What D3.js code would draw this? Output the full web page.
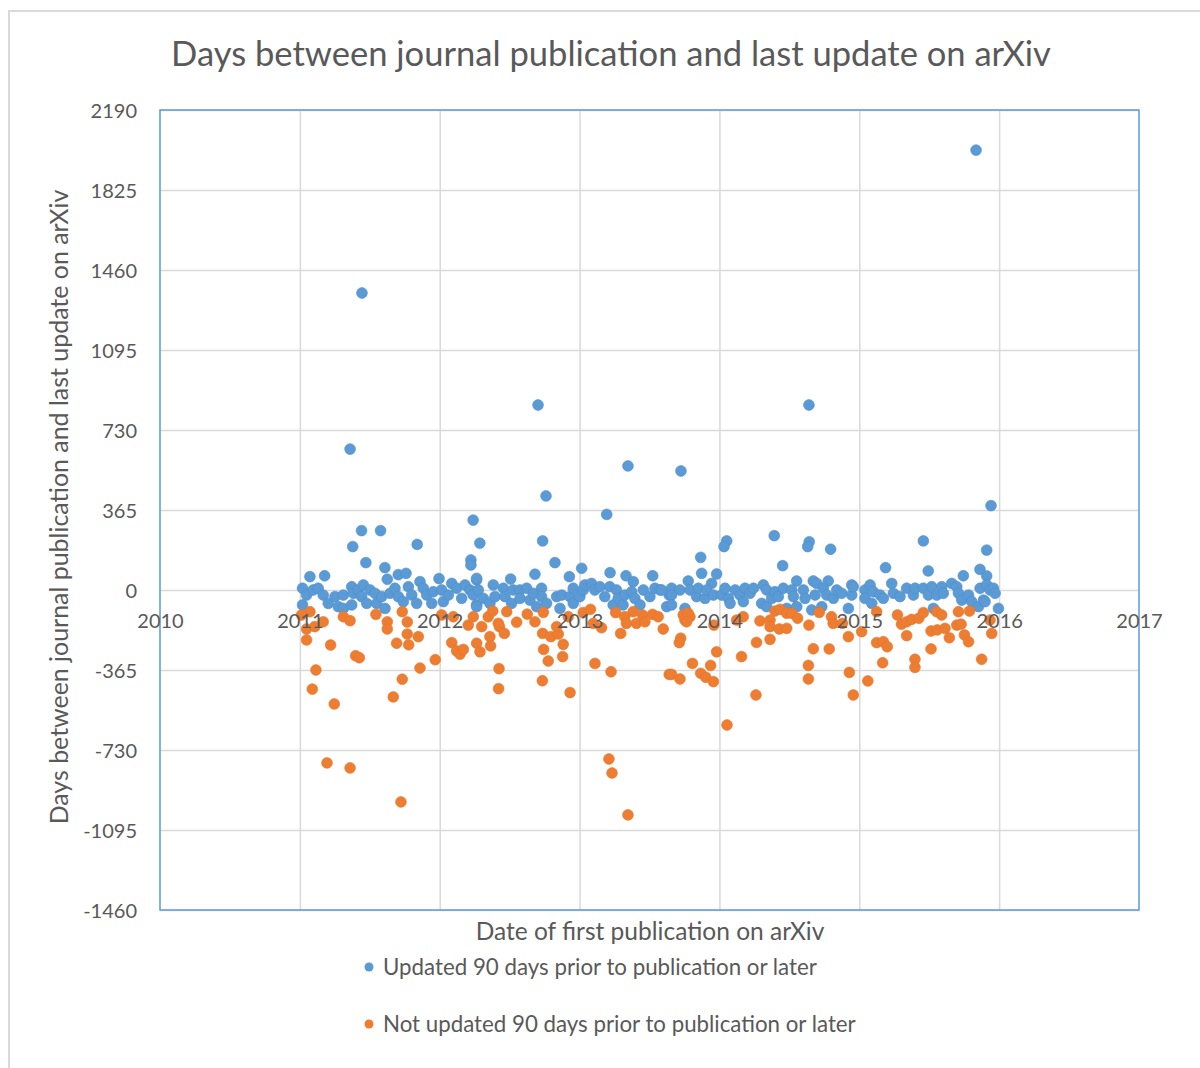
<!DOCTYPE html>
<html><head><meta charset="utf-8">
<script src="https://cdn.jsdelivr.net/npm/d3@7"></script>
<style>body{margin:0;background:#fff}svg{display:block}text{font-family:Lato,"Open Sans",sans-serif;fill:#595959}</style>
</head><body>
<script>
const titleText = "Days between journal publication and last update on arXiv";
const xTitle = "Date of first publication on arXiv";
const yTitle = "Days between journal publication and last update on arXiv";
const seriesNames = ["Updated 90 days prior to publication or later","Not updated 90 days prior to publication or later"];
const yTicks = [-1460,-1095,-730,-365,0,365,730,1095,1460,1825,2190];
const xTicks = [2010,2011,2012,2013,2014,2015,2016,2017];

// [first publication (decimal year), days]
const updated = [
[2011.444,1355],[2011.359,643],[2012.703,844],[2013.346,566],[2013.725,543],[2014.640,844],[2015.835,2007],
[2012.760,429],[2013.194,345],[2015.942,385],
[2012.239,319],[2011.441,271],[2011.577,271],[2011.378,198],[2011.839,208],[2011.472,125],[2012.223,137],[2012.223,114],[2011.608,102],[2011.072,61],[2011.177,65],[2011.625,49],[2011.704,70],[2011.759,76],[2011.995,52],[2012.287,214],
[2012.736,224],[2012.824,125],[2013.015,99],[2012.927,61],[2012.681,72],[2012.507,50],[2013.218,79],[2013.332,65],[2013.384,38],[2013.523,65],
[2014.392,248],[2014.052,224],[2014.033,198],[2014.642,220],[2014.631,198],[2014.795,186],[2013.866,149],[2014.452,111],[2013.873,76],[2013.980,73],[2013.777,41],[2014.552,41],[2014.671,41],[2014.778,41],[2013.944,30],
[2015.911,182],[2015.458,224],[2015.188,102],[2015.493,87],[2015.863,94],[2015.911,64],[2015.744,65],
[2011.019,8],[2011.048,-23],[2011.019,-68],[2011.095,0],[2011.131,8],[2011.167,-23],[2011.203,-61],[2011.251,-30],[2011.275,-76],[2011.311,-23],[2011.311,-84],[2011.371,15],[2011.383,-15],[2011.371,-68],[2011.418,0],[2011.454,23],[2011.442,-30],[2011.478,-61],[2011.502,0],[2011.537,-15],[2011.549,-61],[2011.585,-30],[2011.609,-84],[2011.645,-15],[2011.680,8],[2011.704,-30],[2011.740,-53],[2011.776,15],[2011.800,-23],[2011.835,-61],[2011.859,38],[2011.883,8],[2011.907,-23],[2011.943,-61],[2011.954,-8],[2012.014,0],[2012.026,-53],[2012.062,-23],[2012.086,30],[2012.121,8],[2012.157,-38],[2012.181,23],[2012.216,0],[2012.240,-23],[2012.264,-68],[2012.264,46],
[2012.264,53],[2012.276,0],[2012.264,-76],[2012.312,-38],[2012.383,23],[2012.359,-61],[2012.395,-30],[2012.455,8],[2012.467,-30],[2012.514,-61],[2012.526,0],[2012.574,0],[2012.574,-38],[2012.622,8],[2012.645,-46],[2012.669,-15],[2012.693,-76],[2012.728,8],[2012.728,-30],[2012.764,-61],[2012.836,-30],[2012.860,-84],[2012.872,-23],[2012.931,-30],[2012.955,8],[2012.955,-61],[2013.002,-30],[2013.026,0],[2013.038,23],[2013.085,30],[2013.109,0],[2013.145,15],[2013.180,-30],[2013.216,15],[2013.240,-68],[2013.264,0],[2013.276,-38],[2013.311,-68],[2013.323,-23],[2013.373,-8],[2013.395,-38],[2013.432,-68],[2013.456,0],[2013.503,-30],[2013.539,8],[2013.575,0],[2013.623,-76],[2013.641,-23],
[2013.587,0],[2013.658,8],[2013.658,-23],[2013.658,-68],[2013.718,0],[2013.754,-84],[2013.790,0],[2013.837,-30],[2013.849,8],[2013.897,-38],[2013.909,0],[2013.957,-23],[2014.016,-23],[2014.040,8],[2014.064,-38],[2014.076,-61],[2014.112,0],[2014.147,-23],[2014.171,-53],[2014.183,8],[2014.219,-15],[2014.243,8],[2014.302,-61],[2014.314,23],[2014.338,0],[2014.338,-76],[2014.374,-38],[2014.397,-8],[2014.421,-30],[2014.457,8],[2014.481,-84],[2014.517,0],[2014.529,-30],[2014.553,-76],[2014.600,0],[2014.612,-38],[2014.660,-91],[2014.684,-23],[2014.696,30],[2014.732,-76],[2014.743,8],[2014.767,-23],[2014.815,-38],[2014.839,0],[2014.874,-15],[2014.922,-84],[2014.946,23],[2014.946,-23],
[2014.957,15],[2015.041,0],[2015.041,-38],[2015.077,23],[2015.089,-61],[2015.101,-8],[2015.149,-23],[2015.172,-38],[2015.232,30],[2015.244,-15],[2015.291,-30],[2015.339,8],[2015.387,-23],[2015.399,8],[2015.458,8],[2015.494,-23],[2015.518,15],[2015.530,-84],[2015.554,-23],[2015.590,15],[2015.601,-15],[2015.661,30],[2015.697,15],[2015.709,-15],[2015.733,-46],[2015.781,-23],[2015.804,-53],[2015.852,-76],[2015.864,8],[2015.888,-46],[2015.911,23],[2015.935,0],[2015.959,8],[2015.971,-15],[2015.995,-84],[2015.899,-53]
];

const notUpdated = [
[2011.072,-99],[2011.012,-114],[2011.048,-178],[2011.107,-167],[2011.167,-145],[2011.048,-228],[2011.220,-251],[2011.115,-365],[2011.089,-452],[2011.246,-520],[2011.311,-122],[2011.359,-140],[2011.399,-300],[2011.425,-309],[2011.544,-111],[2011.625,-145],[2011.625,-178],[2011.732,-99],[2011.768,-146],[2011.768,-201],[2011.692,-243],[2011.778,-250],[2011.847,-213],[2011.859,-356],[2011.732,-407],[2011.668,-488],[2011.968,-318],[2012.086,-240],[2012.121,-278],[2012.145,-293],[2012.169,-271],[2012.014,-114],[2012.097,-122],[2012.264,-243],[2012.288,-282],[2012.204,-160],[2012.240,-122],[2011.194,-789],[2011.359,-812],[2011.723,-967],
[2012.300,-167],[2012.347,-122],[2012.359,-213],[2012.364,-255],[2012.379,-96],[2012.419,-152],[2012.427,-167],[2012.462,-198],[2012.479,-99],[2012.424,-359],[2012.421,-450],[2012.550,-147],[2012.626,-110],[2012.681,-145],[2012.741,-102],[2012.736,-198],[2012.795,-213],[2012.848,-201],[2012.836,-167],[2012.743,-271],[2012.776,-324],[2012.883,-248],[2012.879,-304],[2012.734,-414],[2012.932,-468],[2012.919,-122],[2013.026,-103],[2013.078,-88],[2013.098,-152],[2013.157,-172],[2013.110,-335],[2013.225,-373],[2013.258,-103],[2013.294,-198],[2013.323,-122],[2013.335,-152],[2013.383,-99],[2013.407,-152],[2013.450,-114],[2013.467,-145],[2013.522,-111],[2013.562,-122],[2013.598,-178],[2013.641,-385],[2013.210,-771],[2013.232,-835],[2013.346,-1026],
[2013.741,-114],[2013.753,-137],[2013.789,-122],[2013.777,-106],[2013.765,-145],[2013.723,-220],[2013.713,-240],[2013.961,-160],[2013.980,-282],[2013.807,-335],[2013.937,-344],[2013.866,-380],[2013.902,-398],[2013.957,-418],[2013.658,-385],[2013.718,-406],[2014.170,-122],[2014.123,-137],[2014.158,-304],[2014.265,-239],[2014.261,-479],[2014.290,-141],[2014.362,-137],[2014.362,-167],[2014.362,-225],[2014.397,-96],[2014.433,-88],[2014.428,-178],[2014.481,-175],[2014.481,-106],[2014.516,-106],[2014.559,-129],[2014.640,-160],[2014.636,-344],[2014.636,-406],[2014.671,-268],[2014.714,-102],[2014.785,-269],[2014.801,-122],[2014.813,-152],[2014.880,-152],[2014.922,-213],[2014.929,-376],[2014.957,-479],[2014.054,-616],
[2015.124,-99],[2015.017,-190],[2015.273,-114],[2015.302,-156],[2015.339,-145],[2015.374,-134],[2015.426,-129],[2015.458,-103],[2015.339,-208],[2015.124,-240],[2015.172,-236],[2015.200,-259],[2015.167,-332],[2015.398,-316],[2015.398,-353],[2015.513,-187],[2015.513,-269],[2015.553,-99],[2015.589,-114],[2015.557,-182],[2015.613,-175],[2015.644,-218],[2015.709,-99],[2015.697,-160],[2015.728,-156],[2015.752,-205],[2015.781,-236],[2015.788,-96],[2015.875,-316],[2015.947,-198],[2015.935,-137],[2015.061,-415]
];

const colors = ["#5b9bd5","#ed7d31"];

const W = 1200, H = 1068;
const svg = d3.select("body").append("svg").attr("width", W).attr("height", H);
svg.append("rect").attr("width", W).attr("height", H).attr("fill", "#fff");
svg.append("path").attr("d", "M9,1068V11H1200").attr("fill","none").attr("stroke","#d9d9d9").attr("stroke-width",2);

const x = d3.scaleLinear().domain([2010, 2017]).range([160, 1139]);
const y = d3.scaleLinear().domain([-1460, 2190]).range([910, 110]);

function fit(sel, target) {
  const w = sel.node().getComputedTextLength();
  const fs = parseFloat(sel.attr("font-size"));
  sel.attr("font-size", fs * target / w);
}

// title
const t = svg.append("text").attr("x", 611).attr("y", 66).attr("text-anchor","middle").attr("font-size", 30).text(titleText);
fit(t, 880);

// gridlines
const grid = svg.append("g");
grid.append("g").attr("transform","translate(160,0)")
  .call(d3.axisLeft(y).tickValues(yTicks).tickSize(-(1139-160)).tickFormat(""))
  .call(g => g.select(".domain").remove())
  .call(g => g.selectAll("line").attr("stroke","#d9d9d9").attr("stroke-width",1.5));
grid.append("g").attr("transform","translate(0,910)")
  .call(d3.axisBottom(x).tickValues(xTicks.slice(1,-1)).tickSize(-(910-110)).tickFormat(""))
  .call(g => g.select(".domain").remove())
  .call(g => g.selectAll("line").attr("stroke","#d9d9d9").attr("stroke-width",1.5));

// plot border
svg.append("rect").attr("x",160).attr("y",110).attr("width",1139-160).attr("height",910-110)
  .attr("fill","none").attr("stroke","#5b9bd5").attr("stroke-width",1.5);

// points
svg.append("g").selectAll("circle").data(updated).join("circle")
  .attr("cx", d => x(d[0])).attr("cy", d => y(d[1])).attr("r", 5.4)
  .attr("fill", colors[0]).attr("stroke","#4d8ccb").attr("stroke-width",0.6);
svg.append("g").selectAll("circle").data(notUpdated).join("circle")
  .attr("cx", d => x(d[0])).attr("cy", d => y(d[1])).attr("r", 5.4)
  .attr("fill", colors[1]).attr("stroke","#e5752b").attr("stroke-width",0.6);

// y axis labels
svg.append("g").attr("transform","translate(137,0)")
  .call(d3.axisLeft(y).tickValues(yTicks).tickSize(0).tickPadding(0).tickFormat(d => String(d)))
  .call(g => g.select(".domain").remove())
  .call(g => g.selectAll("text").attr("font-size",20).attr("font-family","Lato").attr("fill","#595959").attr("dy","0.36em"));

// x axis labels at y=0
svg.append("g").attr("transform",`translate(0,${y(0)})`)
  .call(d3.axisBottom(x).tickValues(xTicks).tickSize(0).tickFormat(d => String(d)))
  .call(g => g.select(".domain").remove())
  .call(g => g.selectAll("text").attr("font-size",20).attr("font-family","Lato").attr("fill","#595959").attr("y",38).attr("dy",0));

// axis titles
const xt = svg.append("text").attr("x", 650).attr("y", 940).attr("text-anchor","middle").attr("font-size",22).text(xTitle);
fit(xt, 349);
const yt = svg.append("text").attr("transform","translate(68,507) rotate(-90)").attr("text-anchor","middle").attr("font-size",22).text(yTitle);
fit(yt, 635);

// legend
const legY = [967, 1024];
const legW = [434, 473];
seriesNames.forEach((n, i) => {
  svg.append("circle").attr("cx",369).attr("cy",legY[i]).attr("r",4.5).attr("fill",colors[i]);
  const lt = svg.append("text").attr("x",383).attr("y",legY[i]).attr("dy","0.35em").attr("font-size",20).text(n);
  fit(lt, legW[i]);
});
</script>
</body></html>
